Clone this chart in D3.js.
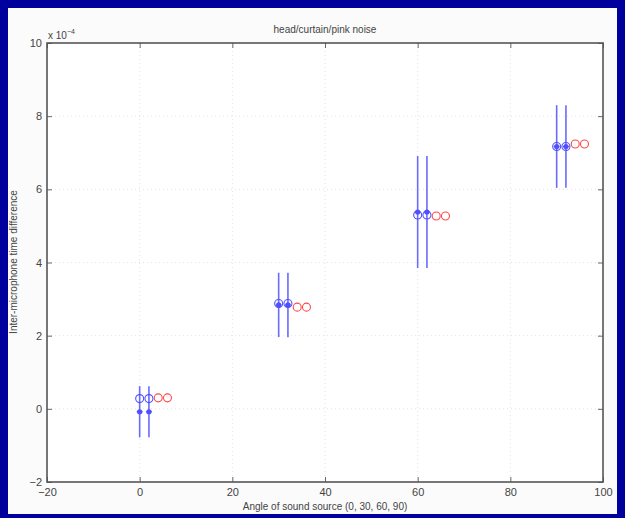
<!DOCTYPE html>
<html>
<head>
<meta charset="utf-8">
<script src="https://cdn.jsdelivr.net/npm/d3@7"></script>
<style>
  html, body { margin: 0; padding: 0; background: #00009c; }
  svg { display: block; }
  text { font-family: "Liberation Sans", Arial, sans-serif; fill: #444; }
</style>
</head>
<body>
<svg id="chart" width="625" height="518"></svg>
<script>
// Source angles (degrees)
const angles = [0, 30, 60, 90];
// Horizontal offsets of each measurement set from its angle
const blueOffsets = [0, 2];
const redOffsets = [4, 6];
// Inter-microphone time differences, units of 1e-4 s
const blueCircle = [0.28, 2.88, 5.3, 7.17];
const blueMean = [-0.08, 2.84, 5.38, 7.17];
const blueErr = [0.70, 0.88, 1.53, 1.13];
const redCircle = [0.30, 2.78, 5.27, 7.24];
// Axis ticks
const xTicks = [-20, 0, 20, 40, 60, 80, 100];
const yTicks = [-2, 0, 2, 4, 6, 8, 10];

const svg = d3.select("#chart");
// light slide panel
svg.append("rect").attr("x", 8).attr("y", 8).attr("width", 609).attr("height", 506).attr("fill", "#fbfbfb");

const m = { left: 47, right: 603, top: 43, bottom: 482 };
const x = d3.scaleLinear().domain([-20, 100]).range([m.left, m.right]);
const y = d3.scaleLinear().domain([-2, 10]).range([m.bottom, m.top]);

svg.append("rect").attr("x", m.left).attr("y", m.top)
  .attr("width", m.right - m.left).attr("height", m.bottom - m.top).attr("fill", "#fff");

// dotted grid
const grid = svg.append("g").attr("stroke", "#dcdcdc").attr("stroke-width", 0.8).attr("stroke-dasharray", "1,3");
grid.selectAll(".gx").data(xTicks.slice(1, -1)).join("line")
  .attr("x1", d => x(d)).attr("x2", d => x(d)).attr("y1", m.top).attr("y2", m.bottom);
grid.selectAll(".gy").data(yTicks.slice(1, -1)).join("line")
  .attr("y1", d => y(d)).attr("y2", d => y(d)).attr("x1", m.left).attr("x2", m.right);

// axes with inward ticks on all four sides
const tickLen = 5;
const axStyle = g => {
  g.select(".domain").remove();
  g.selectAll("line").attr("stroke", "#666").attr("stroke-width", 1);
  g.selectAll("text").attr("font-size", 11).attr("fill", "#444");
};
svg.append("g").attr("transform", `translate(0,${m.bottom})`)
  .call(d3.axisBottom(x).tickValues(xTicks).tickSize(-tickLen).tickPadding(6).tickFormat(d3.format("d")))
  .call(axStyle);
svg.append("g").attr("transform", `translate(0,${m.top})`)
  .call(d3.axisTop(x).tickValues(xTicks).tickSize(-tickLen).tickFormat(""))
  .call(axStyle);
svg.append("g").attr("transform", `translate(${m.left},0)`)
  .call(d3.axisLeft(y).tickValues(yTicks).tickSize(-tickLen).tickPadding(5).tickFormat(d3.format("d")))
  .call(axStyle);
svg.append("g").attr("transform", `translate(${m.right},0)`)
  .call(d3.axisRight(y).tickValues(yTicks).tickSize(-tickLen).tickFormat(""))
  .call(axStyle);

svg.append("rect").attr("x", m.left).attr("y", m.top)
  .attr("width", m.right - m.left).attr("height", m.bottom - m.top)
  .attr("fill", "none").attr("stroke", "#555").attr("stroke-width", 1.6);

// blue: error bars, mean dots and circles
const blueData = [];
blueOffsets.forEach(o => angles.forEach((a, i) => blueData.push({
  x: a + o, c: blueCircle[i], m: blueMean[i], e: blueErr[i]
})));
const blue = svg.append("g");
blue.selectAll(".eb").data(blueData).join("line")
  .attr("x1", d => x(d.x)).attr("x2", d => x(d.x))
  .attr("y1", d => y(d.m - d.e)).attr("y2", d => y(d.m + d.e))
  .attr("stroke", "#6a6aff").attr("stroke-width", 1.6);
blue.selectAll(".md").data(blueData).join("circle")
  .attr("cx", d => x(d.x)).attr("cy", d => y(d.m)).attr("r", 2.6)
  .attr("fill", "#5050ff");
blue.selectAll(".mp").data(blueData).join("line")
  .attr("x1", d => x(d.x) - 3).attr("x2", d => x(d.x) + 3)
  .attr("y1", d => y(d.m)).attr("y2", d => y(d.m))
  .attr("stroke", "#5050ff").attr("stroke-width", 1.2);
blue.selectAll(".ci").data(blueData).join("circle")
  .attr("cx", d => x(d.x)).attr("cy", d => y(d.c)).attr("r", 4)
  .attr("fill", "none").attr("stroke", "#5050ff").attr("stroke-width", 1.1);

// red circles
const redData = [];
redOffsets.forEach(o => angles.forEach((a, i) => redData.push({ x: a + o, v: redCircle[i] })));
svg.append("g").selectAll("circle").data(redData).join("circle")
  .attr("cx", d => x(d.x)).attr("cy", d => y(d.v)).attr("r", 4)
  .attr("fill", "none").attr("stroke", "#ff4848").attr("stroke-width", 1.1);

// labels
svg.append("text").attr("x", 325).attr("y", 33).attr("text-anchor", "middle")
  .attr("font-size", 10).text("head/curtain/pink noise");
const sc = svg.append("text").attr("x", 48).attr("y", 39).attr("font-size", 10);
sc.append("tspan").text("x 10");
sc.append("tspan").attr("dy", -5).attr("font-size", 7).text("−4");
svg.append("text").attr("x", 325).attr("y", 510).attr("text-anchor", "middle")
  .attr("font-size", 10).text("Angle of sound source (0, 30, 60, 90)");
svg.append("text").attr("transform", "translate(17,262) rotate(-90)").attr("text-anchor", "middle")
  .attr("font-size", 10).text("Inter-microphone time difference");
</script>
</body>
</html>
